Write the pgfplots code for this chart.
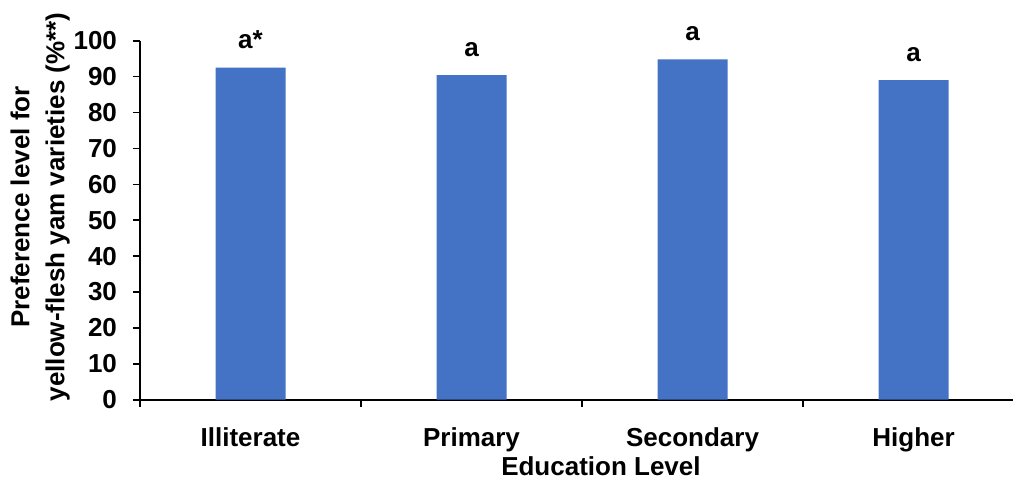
\documentclass[border=0pt]{standalone}
\usepackage{fontspec}
\setmainfont{Liberation Sans}
\usepackage{pgfplots}
\pgfplotsset{compat=1.18}
\definecolor{barblue}{HTML}{4472C4}
\begin{document}
\begin{tikzpicture}
\useasboundingbox (-70pt,-39.65pt) rectangle (436.5pt,199.85pt);
\begin{axis}[
  at={(0,0)}, anchor=south west,
  scale only axis, width=436.5pt, height=179.5pt,
  xmin=-0.5, xmax=3.45, ymin=0, ymax=100,
  axis x line*=bottom, axis y line*=left,
  axis line style={line width=1pt, black},
  font=\bfseries\fontsize{13}{15}\selectfont,
  /pgf/number format/assume math mode=true,
  ytick={0,10,...,100},
  xtick={0,1,2,3},
  xticklabels={Illiterate,Primary,Secondary,Higher},
  minor xtick={-0.5,0.5,1.5,2.5,3.5},
  major x tick style={draw=none},
  minor x tick style={black, line width=0.8pt},
  major y tick style={black, line width=0.8pt},
  tick align=outside,
  major tick length=3.5pt, minor tick length=3.5pt,
  xticklabel style={anchor=base, yshift=-20pt},
  yticklabel style={anchor=east, xshift=-4.5pt},
  xlabel={Education Level},
  xlabel style={at={(rel axis cs:0.528,0)}, anchor=base, yshift=-38pt},
  ylabel={Preference level for\\yellow-flesh yam varieties (\%**)},
  ylabel style={at={(rel axis cs:-0.1145,0.537)}, anchor=center, align=center, font=\bfseries\fontsize{13}{17.5}\selectfont},
  clip=false,
]
\addplot[ybar, bar width=35pt, fill=barblue, draw=none,
  nodes near coords, point meta=explicit symbolic,
  nodes near coords style={anchor=base, yshift=9.5pt, inner sep=0pt, font=\bfseries\fontsize{13}{15}\selectfont}]
  coordinates {(0,92.5)[a*] (1,90.4)[a] (2,94.8)[a] (3,89.0)[a]};
\end{axis}
\end{tikzpicture}
\end{document}
